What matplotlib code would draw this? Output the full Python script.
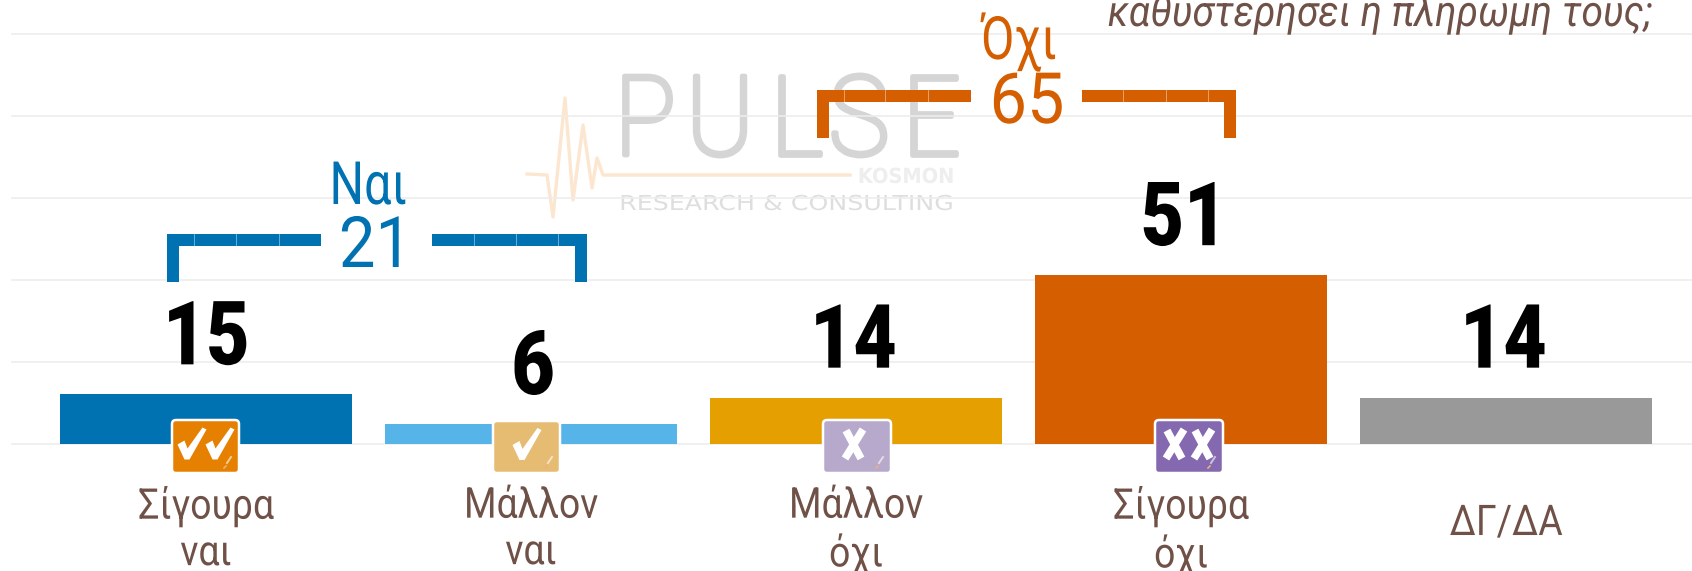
import matplotlib
matplotlib.use("Agg")
import matplotlib.pyplot as plt
import matplotlib.patheffects as pe
from matplotlib.patches import Rectangle, FancyBboxPatch, Polygon
from matplotlib.transforms import Affine2D

categories = ["Σίγουρα\nναι", "Μάλλον\nναι", "Μάλλον\nόχι", "Σίγουρα\nόχι", "ΔΓ/ΔΑ"]
values = [15, 6, 14, 51, 14]
bar_colors = ["#0072B2", "#56B4E9", "#E69F00", "#D55E00", "#999999"]
grid_values = [0, 24.8, 49.6, 74.4, 99.2, 124]
title_text = "καθυστερήσει η πληρωμή τους;"
group_yes = ("Ναι", "21")
group_no = ("Όχι", "65")

BROWN = "#6F5147"
plt.rcParams["font.family"] = ["Roboto", "DejaVu Sans"]
W, H = 1692, 571
BASE = 444
SCALE = 3.31
STEP = 325
X0 = 206
label_nudge = [0, 2, -3, 4, -3]


class Squeeze(pe.AbstractPathEffect):
    """Draw a text line narrower or wider about its own centre, optionally thickened."""

    def __init__(self, sx, stroke=0, color=None):
        super().__init__()
        self.sx = sx
        self.stroke = stroke
        self.color = color

    def draw_path(self, renderer, gc, tpath, affine, rgbFace=None):
        e = tpath.get_extents()
        c = (e.x0 + e.x1) / 2
        t = Affine2D().translate(-c, 0).scale(self.sx, 1).translate(c, 0) + affine
        g = renderer.new_gc()
        g.copy_properties(gc)
        if self.stroke:
            g.set_linewidth(self.stroke)
            g.set_foreground(self.color)
        renderer.draw_path(g, tpath, t, rgbFace)
        g.restore()


fig = plt.figure(figsize=(W / 100, H / 100), dpi=100, facecolor="white")

# logo layer, under the gridlines
lg = fig.add_axes([0, 0, 1, 1], zorder=0)
lg.set_xlim(0, W); lg.set_ylim(H, 0); lg.axis("off")
logo_gray = "#D5D5D5"
for ch, cx in zip("PULSE", [645, 720, 796, 859, 931]):
    t = lg.text(cx, 155, ch, fontsize=80, weight="light", color=logo_gray,
                ha="center", va="baseline")
    t.set_path_effects([Squeeze(0.92, stroke=3.4, color=logo_gray)])
t = lg.text(906, 183, "KOSMON", fontsize=15, family="DejaVu Sans", weight="bold", color="#EEEEEE",
            ha="center", va="baseline")
t.set_path_effects([Squeeze(0.93)])
t = lg.text(786, 210, "RESEARCH & CONSULTING", fontsize=14.8, family="DejaVu Sans", color="#DEDEDE",
            ha="center", va="baseline")
t.set_path_effects([Squeeze(1.23)])
pulse_x = [527, 547, 553, 565, 573, 583, 592, 597, 603, 850]
pulse_y = [174, 175, 217, 98, 200, 125, 188, 158, 175, 175]
lg.plot(pulse_x, pulse_y, color="#FCE6CF", lw=2.4)

# main chart
ax = fig.add_axes([12 / W, (H - BASE) / H, (W - 12) / W, BASE / H], zorder=1)
ax.patch.set_alpha(0)
ax.set_xlim((12 - X0) / STEP, (W - X0) / STEP)
ax.set_ylim(0, BASE / SCALE)
for s in ax.spines.values():
    s.set_visible(False)
positions = list(range(len(categories)))
ax.set_yticks(grid_values)
ax.tick_params(axis="y", length=0, labelleft=False)
ax.set_axisbelow(True)
ax.yaxis.grid(True, color="#EDEDED", lw=1.2, clip_on=False)
ax.bar(positions, values, width=0.896, color=bar_colors, zorder=2)
for p, v, n in zip(positions, values, label_nudge):
    a = ax.annotate(str(v), (p, v), xytext=(n, 30), textcoords="offset pixels", ha="center",
                    va="baseline", fontsize=64, weight="heavy", color="black", zorder=3)
    a.set_path_effects([Squeeze(0.84)])
ax.set_xticks(positions)
ax.set_xticklabels(categories, fontsize=30.5, color=BROWN, linespacing=1.17)
ax.tick_params(axis="x", length=0, pad=30)
ax.xaxis.get_major_ticks()[4].set_pad(42.5)
for lab in ax.get_xticklabels():
    lab.set_path_effects([Squeeze(0.88)])

# overlay: icons, brackets, title
ov = fig.add_axes([0, 0, 1, 1], zorder=2)
ov.set_xlim(0, W); ov.set_ylim(H, 0); ov.axis("off"); ov.patch.set_alpha(0)


def icon(x0, x1, y0, y1, color, kind):
    ov.add_patch(FancyBboxPatch((x0, y0), x1 - x0, y1 - y0, boxstyle="round,pad=0,rounding_size=4",
                                fc=color, ec="white", lw=1.8, zorder=3))
    cy = (y0 + y1) / 2 - 2
    cx = (x0 + x1) / 2

    def check(dx):
        pts = [(-14, 0), (-7, -4), (-4, 4), (11, -17), (15, -15), (-2, 15), (-7, 15)]
        ov.add_patch(Polygon([(cx + dx + a, cy + b) for a, b in pts], fc="white", ec="none", zorder=4))

    def cross(dx):
        ov.plot([cx + dx - 8, cx + dx + 7], [cy - 14, cy + 14], color="white", lw=5.5, zorder=4,
                solid_capstyle="butt")
        ov.plot([cx + dx + 9, cx + dx - 9], [cy - 15, cy + 14], color="white", lw=5.5, zorder=4,
                solid_capstyle="butt")

    if kind == "vv":
        check(-14); check(14)
    elif kind == "v":
        check(0)
    elif kind == "x":
        cross(-3)
    else:
        cross(-14); cross(14)
    ov.plot([x1 - 12, x1 - 8], [y1 - 10, y1 - 16], color="#FFFFFF", lw=1.4, alpha=0.6, zorder=4)
    ov.plot([x1 - 15, x1 - 13], [y1 - 5, y1 - 7], color="#E8B27A", lw=1.2, zorder=4)


icon(172, 239, 420, 473, "#E68000", "vv")
icon(493, 560, 421, 473, "#E6BC73", "v")
icon(823, 891, 420, 473, "#B6A9CB", "x")
icon(1155, 1223, 420, 473, "#8468B0", "xx")


def bracket(x0, x1, gap0, gap1, ytop, ybot, color, label, top_cx, num_cx, label_base, num_base, seps, num_sx):
    th = 12
    for r in [(x0, ytop, gap0 - x0, th), (gap1, ytop, x1 - gap1, th),
              (x0, ytop, th, ybot - ytop), (x1 - th, ytop, th, ybot - ytop)]:
        ov.add_patch(Rectangle((r[0], r[1]), r[2], r[3], fc=color, ec="none", zorder=5))
    for s in seps:
        ov.plot([s, s], [ytop, ytop + th], color="white", lw=0.6, alpha=0.5, zorder=6)
    a = ov.text(top_cx, label_base, label[0], color=color, fontsize=43, ha="center", va="baseline", zorder=6)
    a.set_path_effects([Squeeze(0.81)])
    b = ov.text(num_cx, num_base, label[1], color=color, fontsize=51, ha="center", va="baseline", zorder=6)
    b.set_path_effects([Squeeze(num_sx)])


bracket(167, 587, 321, 432, 234, 282, "#0072B2", group_yes, 368, 376, 204, 267, [194, 236, 279, 474, 516, 558], 0.92)
bracket(817, 1236, 971, 1082, 90, 138, "#D55E00", group_no, 1019, 1027, 59, 123, [844, 885, 928, 1123, 1166, 1208], 0.94)

tt = ov.text(1379.5, 26, title_text, color=BROWN, fontsize=31, style="italic", ha="center", va="baseline")
tt.set_path_effects([Squeeze(0.906)])

fig.savefig("out.png", dpi=100)
